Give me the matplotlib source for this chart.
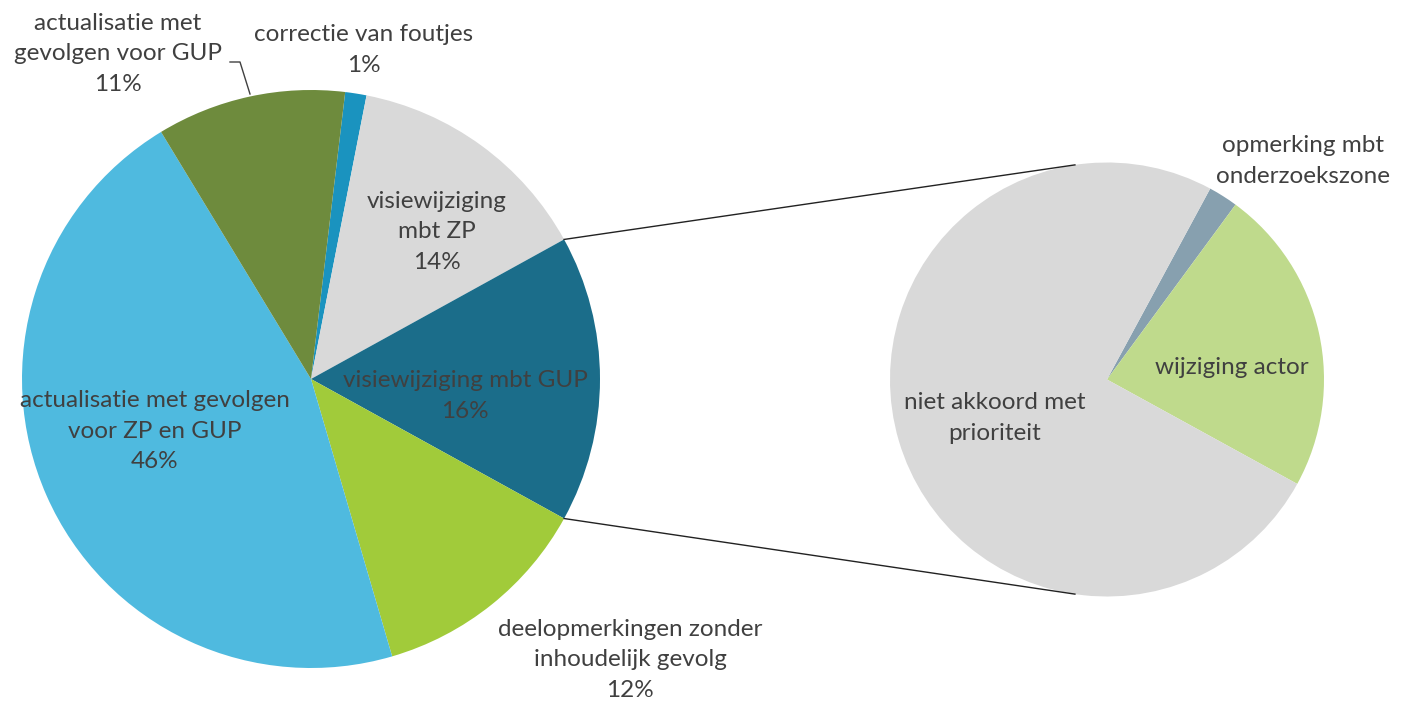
#!/usr/bin/env python3
"""Pie-of-pie chart: soorten opmerkingen, with the GUP slice split out."""

import matplotlib

matplotlib.use("Agg")
import matplotlib.pyplot as plt
import numpy as np

plt.rcParams["font.family"] = ["Lato", "DejaVu Sans"]

# main pie, clockwise from the top
MAIN_LABELS = [
    "correctie van foutjes",
    "visiewijziging\nmbt ZP",
    "visiewijziging mbt GUP",
    "deelopmerkingen zonder\ninhoudelijk gevolg",
    "actualisatie met gevolgen\nvoor ZP en GUP",
    "actualisatie met\ngevolgen voor GUP",
]
MAIN_VALUES = [1.19, 13.9, 16.04, 12.45, 45.85, 10.57]
MAIN_COLORS = ["#1A93BF", "#D9D9D9", "#1B6D8A", "#A1CB3A", "#4FBADF", "#6E8B3D"]

# second pie: breakdown of "visiewijziging mbt GUP"
SUB_LABELS = ["opmerking mbt\nonderzoekszone", "wijziging actor", "niet akkoord met\nprioriteit"]
SUB_VALUES = [2.2, 22.9, 74.9]
SUB_COLORS = ["#87A0AF", "#BFDA8C", "#D9D9D9"]

W, H = 1420, 704
TEXT = "#404040"
FS = 17.5
LS = 1.55

MAIN_C = (311, H - 379)
MAIN_R = 289
MAIN_START = 83.2
SUB_C = (1107, H - 379.5)
SUB_R = 217
SUB_START = 61.6


def px(x, y):
    return x, H - y


def main() -> int:
    fig = plt.figure(figsize=(W / 100, H / 100), dpi=100)
    ax = fig.add_axes([0, 0, 1, 1])

    ax.pie(MAIN_VALUES, colors=MAIN_COLORS, startangle=MAIN_START, counterclock=False,
           center=MAIN_C, radius=MAIN_R, wedgeprops={"linewidth": 0})
    ax.pie(SUB_VALUES, colors=SUB_COLORS, startangle=SUB_START, counterclock=False,
           center=SUB_C, radius=SUB_R, wedgeprops={"linewidth": 0})

    # connector lines from the split slice to the second pie
    cum = np.cumsum([0] + MAIN_VALUES) / 100 * 360
    a_top = np.deg2rad(MAIN_START - cum[2])
    a_bot = np.deg2rad(MAIN_START - cum[3])
    for a_main, a_sub in ((a_top, np.deg2rad(98.5)), (a_bot, np.deg2rad(-98.5))):
        x0 = MAIN_C[0] + MAIN_R * np.cos(a_main)
        y0 = MAIN_C[1] + MAIN_R * np.sin(a_main)
        x1 = SUB_C[0] + SUB_R * np.cos(a_sub)
        y1 = SUB_C[1] + SUB_R * np.sin(a_sub)
        ax.plot([x0, x1], [y0, y1], color="#222222", linewidth=1.0)

    pcts = [f"{round(v):d}%" for v in MAIN_VALUES]
    main_pos = [(364, 50), (437, 232), (465, 396), (630, 660), (155, 431), (118, 54)]
    for label, pct, (x, y) in zip(MAIN_LABELS, pcts, main_pos):
        ax.text(*px(x, y), f"{label}\n{pct}", ha="center", va="center", fontsize=FS,
                color=TEXT, linespacing=LS)

    # leader line for the olive slice label
    ax.plot(*zip(px(230, 62), px(240, 62), px(250, 94)), color=TEXT, linewidth=1.0)

    sub_pos = [(1303, 161), (1232, 368), (995, 418)]
    for label, (x, y) in zip(SUB_LABELS, sub_pos):
        ax.text(*px(x, y), label, ha="center", va="center", fontsize=FS,
                color=TEXT, linespacing=LS)

    ax.set_xlim(0, W)
    ax.set_ylim(0, H)
    ax.set_aspect("equal")
    ax.axis("off")
    fig.savefig("out.png", dpi=100)
    plt.close(fig)
    return 0


if __name__ == "__main__":
    raise SystemExit(main())
